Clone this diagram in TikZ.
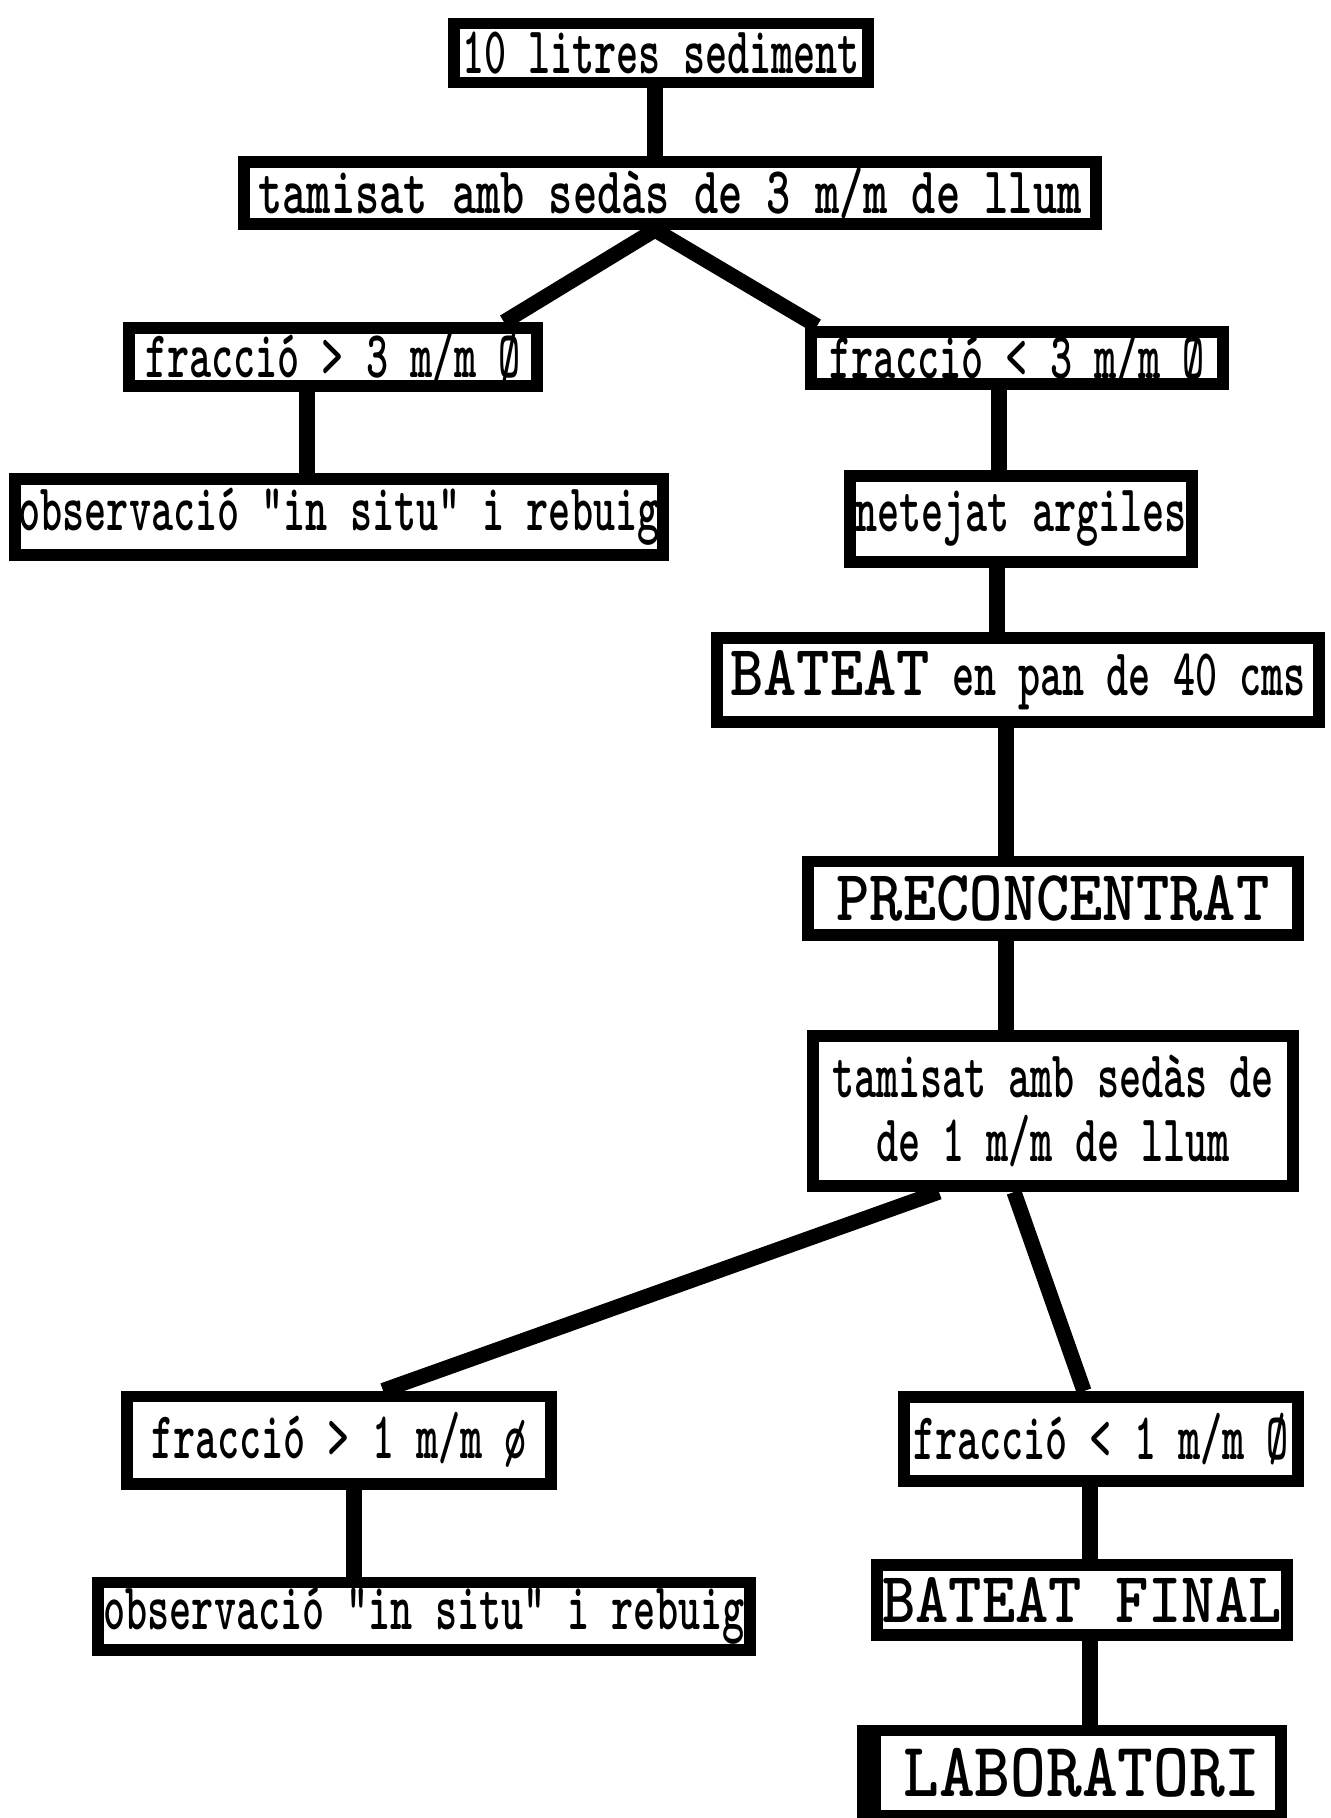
\documentclass[tikz,border=0pt]{standalone}
\usepackage{fontspec}
\newfontfamily\slimface{lmmonolt10-bold.otf}[FakeStretch=0.63]
\newfontfamily\roomyface{lmmonolt10-bold.otf}[FakeStretch=0.69]
\newfontfamily\wideface{lmmonolt10-bold.otf}[FakeStretch=0.88]
\newcommand{\slimtext}{\slimface\fontsize{19}{18}\selectfont}
\newcommand{\roomytext}{\roomyface\fontsize{19}{18}\selectfont}
\newcommand{\heavycaps}{\wideface\fontsize{20.5}{19}\selectfont}
\usetikzlibrary{positioning}
\usetikzlibrary{calc}

\begin{document}
\begin{tikzpicture}[x=0.01cm,y=-0.01cm]
		\tikzset{stage/.style = {shape=rectangle, draw, line width=3.4pt, fill=white, inner sep=0pt, align=center, font=\slimtext}}
		\tikzset{wire/.style = {line width=4.3pt, line join=round}}
		\path[use as bounding box, fill=white] (0,0) rectangle (1331,1818);

		\node[stage, minimum width=4.13cm, minimum height=0.59cm] (SEDIMENT) at (661,53) {10 litres sediment};
		\node[stage, minimum width=8.51cm, minimum height=0.62cm, font=\roomytext] (TAMIS3) at (670,193) {tamisat amb sedàs de 3 m/m de llum};
		\node[stage, minimum width=4.08cm, minimum height=0.58cm] (GROS3) at (333,357) {fracció > 3 m/m Ø};
		\node[stage, minimum width=4.11cm, minimum height=0.52cm] (FI3) at (1017,358) {fracció < 3 m/m Ø};
		\node[stage, minimum width=6.48cm, minimum height=0.76cm] (REBUIG3) at (339,517) {observació "in situ" i rebuig};
		\node[stage, minimum width=3.42cm, minimum height=0.86cm] (NETEJAT) at (1021,519) {netejat argiles};
		\node[stage, minimum width=6.02cm, minimum height=0.84cm] (BATEAT) at (1018,680) {{\heavycaps BATEAT} en pan de 40 cms};
		\node[stage, minimum width=4.90cm, minimum height=0.73cm, font=\heavycaps] (PRECONC) at (1053,898) {PRECONCENTRAT};
		\node[stage, minimum width=4.79cm, minimum height=1.50cm] (TAMIS1) at (1053,1111) {tamisat amb sedàs de\\de 1 m/m de llum};
		\node[stage, minimum width=4.23cm, minimum height=0.87cm] (GROS1) at (339,1440) {fracció > 1 m/m ø};
		\node[stage, minimum width=3.93cm, minimum height=0.84cm] (FI1) at (1101,1439) {fracció < 1 m/m Ø};
		\node[stage, minimum width=6.51cm, minimum height=0.67cm] (REBUIG1) at (424,1616) {observació "in situ" i rebuig};
		\node[stage, minimum width=4.09cm, minimum height=0.70cm, font=\heavycaps] (FINAL) at (1082,1600) {BATEAT FINAL};
		\node[stage, minimum width=4.17cm, minimum height=0.85cm, font=\wideface\fontsize{22}{21}\selectfont] (LAB) at (1072,1773) {\hspace{0.2cm}LABORATORI};
		\fill (LAB.north west) rectangle ($(LAB.south west)+(24,0)$);

		% first sieve
		\draw[wire] ($(SEDIMENT.south)+(-6,0)$) -- ($(TAMIS3.north)+(-15,0)$);
		\draw[wire] ($(GROS3.north)+(171,0)$) -- ($(TAMIS3.south)+(-15,0)$) -- ($(FI3.north)+(-200,0)$);
		\draw[wire] ($(GROS3.south)+(-26,0)$) -- ($(REBUIG3.north)+(-32,0)$);
		\draw[wire] ($(FI3.south)+(-18,0)$) -- ($(NETEJAT.north)+(-22,0)$);
		\draw[wire] ($(NETEJAT.south)+(-24,0)$) -- ($(BATEAT.north)+(-21,0)$);
		\draw[wire] ($(BATEAT.south)+(-12,0)$) -- ($(PRECONC.north)+(-47,0)$);
		\draw[wire] ($(PRECONC.south)+(-47,0)$) -- ($(TAMIS1.north)+(-47,0)$);
		% second sieve
		\draw[wire] ($(TAMIS1.south)+(-114,0)$) -- ($(GROS1.north)+(44,0)$);
		\draw[wire] ($(TAMIS1.south)+(-39,0)$) -- ($(FI1.north)+(-17,0)$);
		\draw[wire] ($(GROS1.south)+(15,0)$) -- ($(REBUIG1.north)+(-70,0)$);
		\draw[wire] ($(FI1.south)+(-11,0)$) -- ($(FINAL.north)+(8,0)$);
		\draw[wire] ($(FINAL.south)+(8,0)$) -- ($(LAB.north)+(18,0)$);
\end{tikzpicture}
\end{document}
